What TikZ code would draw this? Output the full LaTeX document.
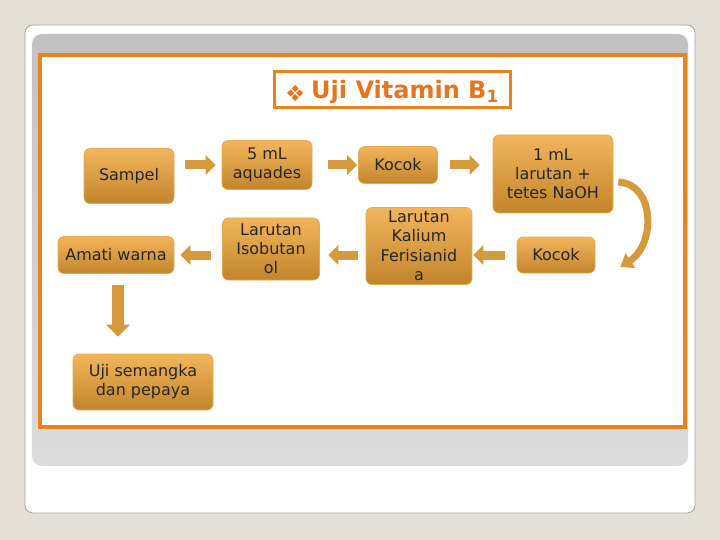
\documentclass[tikz,border=0pt]{standalone}
\usepackage{fontspec}
\setmainfont{DejaVu Sans}
\usetikzlibrary{arrows.meta,calc}
\definecolor{bgbeige}{HTML}{E5DFD5}
\definecolor{paneltop}{HTML}{C2C2C2}
\definecolor{panelbot}{HTML}{DCDCDC}
\definecolor{frameorange}{HTML}{E8841E}
\definecolor{boxtop}{HTML}{F3B55C}
\definecolor{boxbot}{HTML}{C2852C}
\definecolor{boxline}{HTML}{E2AA52}
\definecolor{arrowgold}{HTML}{D49A3C}
\definecolor{titleorange}{HTML}{E8741E}
\definecolor{cardline}{HTML}{A8A49C}
\begin{document}
\begin{tikzpicture}[x=1pt,y=-1pt,
  stepbox/.style={draw=boxline, line width=0.6pt, rounded corners=6pt,
    top color=boxtop, bottom color=boxbot, align=center,
    font=\fontsize{16}{19}\selectfont, text=black!85, inner sep=0pt},
  barrow/.style={draw=arrowgold, line width=9pt,
    -{Triangle[width=19pt,length=10pt]}},
  varrow/.style={draw=arrowgold, line width=12pt,
    -{Triangle[width=23pt,length=12pt]}},
  carrow/.style={draw=arrowgold, line width=7pt,
    -{Triangle[width=17pt,length=12pt]}},
]
\fill[bgbeige] (0,0) rectangle (720,540);
\useasboundingbox (0,0) rectangle (720,540);
% card
\filldraw[fill=white, draw=cardline, line width=0.8pt, rounded corners=8pt]
  (25,25) rectangle (695,513);
% grey panel
\shade[top color=paneltop, bottom color=panelbot, rounded corners=10pt]
  (32,34) rectangle (688,466);
% orange frame
\filldraw[fill=white, draw=frameorange, line width=4pt] (40,55) rectangle (685,427);
% title
\node[draw=frameorange, line width=3pt, minimum width=236pt, minimum height=36pt,
  inner sep=0pt] (title) at (392,90) {};
\node[text=titleorange, font=\fontsize{24}{28}\selectfont\bfseries, anchor=west,
  inner sep=0pt] (titletext) at (311,92) {Uji Vitamin B\textsubscript{1}};
\foreach \dx/\dy in {0/-4.5,4.5/0,0/4.5,-4.5/0}{
  \fill[titleorange] ($(295,93)+(\dx,\dy)+(0,-3.5)$) -- ++(3.5,3.5) -- ++(-3.5,3.5)
    -- ++(-3.5,-3.5) -- cycle;
}
% boxes
\node[stepbox, minimum width=90pt, minimum height=55pt] (sampel) at (129,176) {Sampel};
\node[stepbox, minimum width=90pt, minimum height=49pt] (aquades) at (267,165) {5 mL\\aquades};
\node[stepbox, minimum width=79pt, minimum height=37pt] (kocoka) at (398,165) {Kocok};
\node[stepbox, minimum width=120pt, minimum height=78pt] (naoh) at (553,174) {1 mL\\larutan +\\tetes NaOH};
\node[stepbox, minimum width=116pt, minimum height=37pt] (amati) at (116,255) {Amati warna};
\node[stepbox, minimum width=97pt, minimum height=62pt] (isobut) at (271,249) {Larutan\\Isobutan\\ol};
\node[stepbox, minimum width=106pt, minimum height=77pt, font=\fontsize{16}{19.5}\selectfont] (kalium) at (419,246) {Larutan\\Kalium\\Ferisianid\\a};
\node[stepbox, minimum width=78pt, minimum height=36pt] (kocokb) at (556,255) {Kocok};
\node[stepbox, minimum width=140pt, minimum height=56pt] (uji) at (143,382) {Uji semangka\\dan pepaya};
% arrows
\draw[barrow, shorten <=11pt, shorten >=6pt] (sampel.east |- aquades.west) -- (aquades.west);
\draw[barrow, shorten <=16pt, shorten >=1pt] (aquades.east) -- (kocoka.west);
\draw[barrow, shorten <=12.5pt, shorten >=13pt] (kocoka.east) -- (naoh.west |- kocoka.east);
\draw[barrow, shorten <=12pt, shorten >=1pt] (kocokb.west) -- (kalium.east |- kocokb.west);
\draw[barrow, shorten <=8pt, shorten >=8.5pt] (kalium.west |- amati.east) -- (isobut.east |- amati.east);
\draw[barrow, shorten <=11.5pt, shorten >=6pt] (isobut.west |- amati.east) -- (amati.east);
\draw[varrow, shorten <=11.5pt, shorten >=17pt] ([shift={(2,0)}]amati.south) -- ([shift={(2,0)}]amati.south |- uji.north);
\draw[carrow] ([shift={(5,8)}]naoh.east) .. controls (655,184) and (656,244) .. ([shift={(25,12)}]kocokb.east);
\end{tikzpicture}
\end{document}
